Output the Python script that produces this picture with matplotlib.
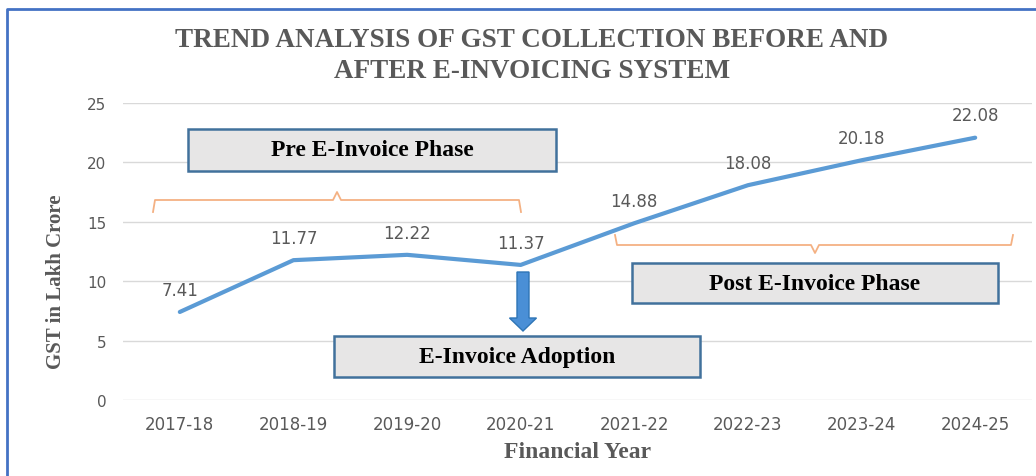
import matplotlib
matplotlib.use("Agg")
import matplotlib.pyplot as plt
from matplotlib.patches import Rectangle, FancyArrow
from matplotlib.lines import Line2D
from matplotlib.transforms import Affine2D

# ---- data ----
years = ["2017-18", "2018-19", "2019-20", "2020-21", "2021-22", "2022-23", "2023-24", "2024-25"]
gst = [7.41, 11.77, 12.22, 11.37, 14.88, 18.08, 20.18, 22.08]
yticks = [0, 5, 10, 15, 20, 25]
title = "TREND ANALYSIS OF GST COLLECTION BEFORE AND\nAFTER E-INVOICING SYSTEM"
xlabel = "Financial Year"
ylabel = "GST in Lakh Crore"
pre_label = "Pre E-Invoice Phase"
post_label = "Post E-Invoice Phase"
adopt_label = "E-Invoice Adoption"

W, H = 1036, 477
fig = plt.figure(figsize=(W / 100, H / 100), dpi=100)
fig.patch.set_facecolor("white")
# pixel transform (origin top-left)
px = Affine2D().scale(1 / 100, -1 / 100).translate(0, H / 100) + fig.dpi_scale_trans

ax = fig.add_axes([123 / W, 1 - 401 / H, (1032 - 123) / W, (401 - 104) / H])
x = list(range(len(years)))
line_color = "#5b9bd5"
grey_text = "#595959"

ax.plot(x, gst, color=line_color, lw=3, solid_capstyle="round", zorder=3)
for xi, v in zip(x, gst):
    ax.annotate(f"{v:.2f}", (xi, v), xytext=(0, 16), textcoords="offset points",
                ha="center", va="center", fontsize=12, color=grey_text,
                family="DejaVu Sans")

ax.set_xlim(-0.5, 7.5)
ax.set_ylim(0, 25)
ax.set_yticks(yticks)
ax.set_xticks(x)
ax.set_xticklabels(years, fontsize=12, color=grey_text)
ax.tick_params(axis="y", labelsize=11, labelcolor=grey_text, length=0, pad=12)
ax.tick_params(axis="x", length=0, pad=11)
ax.grid(axis="y", color="#d9d9d9", lw=1)
ax.set_axisbelow(True)
for s in ax.spines.values():
    s.set_visible(False)

serif = ["Liberation Serif", "DejaVu Serif"]
fig.text(532 / W, 1 - 56 / H, title, ha="center", va="center", family=serif,
         fontweight="bold", fontsize=19.5, color=grey_text, linespacing=1.3)
fig.text(578 / W, 1 - 453 / H, xlabel, ha="center", va="center", family=serif,
         fontweight="bold", fontsize=17, color=grey_text)
fig.text(56 / W, 1 - 282 / H, ylabel, ha="center", va="center", rotation=90,
         family=serif, fontweight="bold", fontsize=15, color=grey_text)

# blue frame
fig.add_artist(Line2D([7, 7, W + 5], [H + 5, 10, 10], transform=px, color="#4472c4", lw=2))

box_face = "#e7e6e6"
box_edge = "#41719c"


def box(x0, y0, x1, y1, text):
    r = Rectangle((x0, y0), x1 - x0, y1 - y0, transform=px, facecolor=box_face,
                  edgecolor=box_edge, lw=1.8, zorder=5)
    fig.add_artist(r)
    fig.text((x0 + x1) / 2 / W, 1 - (y0 + y1) / 2 / H, text, ha="center", va="center",
             family=serif, fontweight="bold", fontsize=17, color="black", zorder=6)


box(188, 130, 556, 172, pre_label)
box(632, 264, 998, 304, post_label)
box(334, 337, 700, 378, adopt_label)

brace_color = "#f4b183"
# pre brace (tip up)
fig.add_artist(Line2D([153, 155, 333, 337, 341, 519, 521], [213, 201, 201, 193, 201, 201, 213],
                      transform=px, color=brace_color, lw=1.3))
# post brace (tip down)
fig.add_artist(Line2D([615, 617, 811, 815, 819, 1011, 1013], [236, 246, 246, 254, 246, 246, 236],
                      transform=px, color=brace_color, lw=1.3))

# arrow
arr = FancyArrow(523, 273, 0, 59, width=12, head_width=27, head_length=13,
                 length_includes_head=True, transform=px, facecolor="#4a8fd6",
                 edgecolor="#2e75b6", lw=1, zorder=4)
fig.add_artist(arr)

fig.savefig("out.png", dpi=100)
